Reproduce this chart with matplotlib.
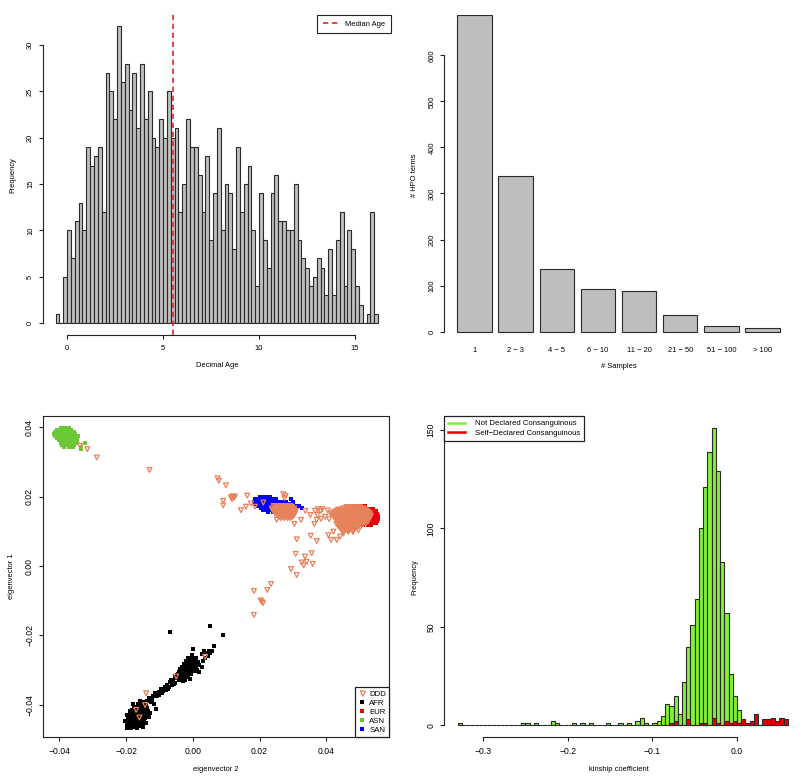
import matplotlib
matplotlib.use("Agg")
import matplotlib.pyplot as plt
from matplotlib.lines import Line2D

plt.rcParams['font.family'] = ['Liberation Sans', 'DejaVu Sans']

# ---- decimal age histogram (bins of 0.2 years starting at -0.6)
AGE_BIN_START = -0.6
AGE_BIN_WIDTH = 0.2
AGE_COUNTS = [1, 0, 5, 10, 7, 11, 13, 10, 19, 17, 18, 19, 12, 27, 25, 22, 32, 26, 28, 23,
              27, 21, 28, 22, 25, 20, 19, 22, 20, 25, 20, 21, 12, 15, 22, 19, 19, 16, 12, 18,
              9, 14, 21, 10, 15, 14, 8, 19, 12, 15, 17, 10, 4, 14, 9, 6, 14, 16, 11, 11,
              10, 10, 15, 9, 7, 6, 4, 5, 7, 6, 3, 8, 3, 9, 12, 4, 10, 8, 4, 2,
              0, 1, 12, 1]
MEDIAN_AGE = 5.52

# ---- HPO terms per number of samples
HPO_GROUPS = ["1", "2 \u2212 3", "4 \u2212 5", "6 \u2212 10", "11 \u2212 20",
              "21 \u2212 50", "51 \u2212 100", "> 100"]
HPO_COUNTS = [688, 339, 137, 93, 88, 37, 12, 7]

# ---- kinship coefficient histogram (bins of 0.005 starting at -0.33)
KIN_BIN_START = -0.33
KIN_BIN_WIDTH = 0.005
KIN_NOT_CONS = [1, 0, 0, 0, 0, 0, 0, 0, 0, 0, 0, 0, 0, 0, 0, 1, 1, 0, 1, 0,
                0, 0, 2, 1, 0, 0, 0, 1, 0, 1, 0, 1, 0, 0, 0, 1, 0, 0, 1, 0,
                1, 0, 2, 4, 1, 0, 1, 2, 5, 11, 10, 15, 6, 22, 40, 51, 64, 100, 121, 139,
                151, 129, 83, 57, 26, 15, 8, 0, 0, 0, 0, 0, 0, 0, 0, 0, 0, 0]
KIN_SELF_CONS = [0, 0, 0, 0, 0, 0, 0, 0, 0, 0, 0, 0, 0, 0, 0, 0, 0, 0, 0, 0,
                 0, 0, 0, 0, 0, 0, 0, 0, 0, 0, 0, 0, 0, 0, 0, 0, 0, 0, 0, 0,
                 0, 0, 0, 0, 0, 0, 0, 0, 0, 0, 1, 2, 0, 0, 3, 0, 0, 1, 1, 0,
                 4, 1, 0, 2, 1, 2, 1, 3, 1, 2, 6, 0, 3, 3, 4, 2, 4, 3]

# ---- PCA points, eigenvector 2 / eigenvector 1 in units of 1e-3
# dense groups are given as rows: (eigenvector 1, [eigenvector 2 values])
ASN_ROWS = [
    (39.8, [-39.6, -38.6, -37.8, -37.0]),
    (39.2, [-40.6, -39.8, -39.0, -38.2, -37.4, -36.6]),
    (38.6, [-41.2, -40.4, -39.6, -38.8, -38.0, -37.2, -36.4, -35.6]),
    (38.0, [-41.6, -40.8, -40.0, -39.2, -38.4, -37.6, -36.8, -36.0, -35.2]),
    (37.4, [-41.4, -40.6, -39.8, -39.0, -38.2, -37.4, -36.6, -35.8, -35.0, -34.4]),
    (36.8, [-40.8, -40.0, -39.2, -38.4, -37.6, -36.8, -36.0, -35.2, -34.6]),
    (36.2, [-40.2, -39.4, -38.6, -37.8, -37.0, -36.2, -35.4, -34.8]),
    (35.6, [-39.6, -38.8, -38.0, -37.2, -36.4, -35.6, -34.8, -32.3]),
    (35.0, [-39.2, -38.4, -37.4, -36.4, -35.6]),
    (34.4, [-38.6, -37.2, -36.0, -33.6]),
    (33.6, [-33.4]),
]
SAN_ROWS = [
    (19.8, [20.0, 21.0, 22.0, 23.0]),
    (19.2, [18.6, 19.5, 20.4, 21.3, 22.2, 23.1, 24.0, 25.0, 29.4]),
    (18.6, [18.4, 19.3, 20.2, 21.1, 22.0, 22.9, 23.8, 24.7, 25.6, 26.6, 28.0, 30.0]),
    (18.0, [18.9, 19.8, 20.7, 21.6, 22.5, 23.4, 24.3, 25.2, 26.2, 29.0]),
    (17.4, [19.5, 20.4, 21.3, 22.2, 23.1, 24.0, 24.9, 31.0, 31.8]),
    (16.8, [20.3, 21.2, 22.1, 23.0, 23.9, 32.6]),
    (16.2, [21.0, 22.0, 23.0, 24.6]),
    (15.6, [22.4, 24.0, 26.4]),
]
EUR_ROWS = [
    (17.2, [48.6, 49.6, 50.6, 51.6]),
    (16.5, [50.0, 51.0, 52.0, 53.0, 54.0]),
    (15.8, [52.0, 53.0, 54.0, 54.8]),
    (15.1, [52.4, 53.4, 54.4, 55.2]),
    (14.4, [52.8, 53.8, 54.8, 55.5]),
    (13.7, [52.6, 53.6, 54.6, 55.5]),
    (13.0, [52.4, 53.4, 54.4, 55.2]),
    (12.3, [52.0, 53.0, 54.0, 54.8]),
    (11.7, [51.0, 52.4, 53.4]),
]
AFR_PTS = [
    (-19.6, -45.8), (-18.8, -46.2), (-17.9, -46.3), (-17.0, -46.2), (-16.1, -46.0), (-15.3, -45.9),
    (-19.8, -45.0), (-19.0, -45.2), (-18.1, -45.3), (-17.2, -45.3), (-16.3, -45.1), (-15.4, -45.0),
    (-14.6, -44.8), (-19.5, -44.2), (-18.6, -44.3), (-17.7, -44.4), (-16.8, -44.3), (-15.9, -44.2),
    (-15.0, -44.0), (-14.2, -43.8), (-19.0, -43.4), (-18.1, -43.4), (-17.2, -43.5), (-16.3, -43.4),
    (-15.4, -43.2), (-14.5, -43.0), (-13.7, -42.8), (-18.6, -42.5), (-17.7, -42.6), (-16.8, -42.5),
    (-15.9, -42.4), (-15.0, -42.2), (-14.1, -42.0), (-13.3, -41.8), (-18.2, -41.6), (-17.3, -41.6),
    (-16.4, -41.6), (-15.5, -41.4), (-14.6, -41.2), (-13.7, -41.0), (-17.6, -40.7), (-16.8, -40.7),
    (-15.9, -40.6), (-15.0, -40.4), (-14.1, -40.1), (-16.5, -39.8), (-15.5, -39.6), (-14.6, -39.3),
    (-13.8, -38.8), (-13.0, -38.0), (-12.5, -39.2), (-11.0, -41.1), (-12.0, -37.5), (-11.2, -36.6),
    (-10.6, -37.6), (-10.0, -36.2), (-9.5, -35.4), (-8.8, -36.0), (-8.2, -35.0), (-7.6, -34.2),
    (-7.0, -35.0), (-6.8, -33.4), (-6.2, -34.2), (-5.8, -32.8), (-5.2, -33.6), (-4.8, -32.2),
    (-4.4, -31.2), (-3.6, -32.4), (-4.6, -31.4), (-3.8, -31.6), (-3.0, -31.8), (-2.2, -32.0),
    (-1.4, -31.6), (-0.6, -31.2), (-4.2, -30.6), (-3.4, -30.8), (-2.6, -30.8), (-1.8, -30.8),
    (-1.0, -30.6), (-0.2, -30.4), (0.6, -30.2), (-3.8, -29.8), (-3.0, -29.9), (-2.2, -29.9),
    (-1.4, -29.8), (-0.6, -29.6), (0.2, -29.4), (1.0, -29.0), (-3.2, -29.0), (-2.4, -29.0),
    (-1.6, -29.0), (-0.8, -28.8), (0.0, -28.6), (0.8, -28.2), (-2.6, -28.2), (-1.8, -28.2),
    (-1.0, -28.0), (-0.2, -27.8), (0.6, -27.4), (-2.0, -27.3), (-1.2, -27.2), (-0.4, -26.8),
    (-1.6, -26.4), (-0.8, -32.6), (-2.4, -33.0), (1.2, -30.0), (1.8, -28.6), (2.6, -29.0),
    (3.0, -27.4), (3.6, -26.6), (4.4, -26.0), (4.0, -25.2), (5.0, -25.0), (4.8, -24.4),
    (5.8, -24.4), (6.2, -23.2), (3.4, -24.6), (2.6, -25.4), (0.1, -24.0),
    (-12.2, -38.6), (-11.6, -39.8), (-10.2, -37.2), (-9.2, -36.6), (-8.0, -35.8), (-7.4, -35.6),
    (-6.4, -33.0), (-5.6, -34.0), (-5.4, -31.6), (-4.0, -33.0), (-3.0, -33.2), (1.8, -30.6),
    (1.6, -27.6), (0.8, -26.4), (-0.2, -25.8), (-19.8, -46.6), (-18.4, -46.8), (-16.8, -46.8),
    (-15.0, -46.4), (-14.0, -45.2), (-13.2, -43.6), (-12.8, -42.4), (-20.2, -44.6), (-19.6, -43.0),
    (-18.8, -41.8), (-17.8, -39.8), (-15.8, -38.8),
    (-6.8, -19.0), (5.1, -17.3), (9.0, -19.9),
]
DDD_ROWS = [
    # group next to the SAN samples
    (17.3, [24.2, 25.2, 26.2, 27.2, 28.2, 29.2]),
    (16.95, [24.7, 25.7, 26.7, 27.7, 28.7, 29.7]),
    (16.6, [23.6, 24.6, 25.6, 26.6, 27.6, 28.6, 29.6, 30.4]),
    (16.25, [24.1, 25.1, 26.1, 27.1, 28.1, 29.1, 30.1]),
    (15.9, [24.0, 25.0, 26.0, 27.0, 28.0, 29.0, 30.0, 30.9]),
    (15.55, [24.5, 25.5, 26.5, 27.5, 28.5, 29.5, 30.4]),
    (15.2, [24.6, 25.6, 26.6, 27.6, 28.6, 29.6, 30.6]),
    (14.85, [25.1, 26.1, 27.1, 28.1, 29.1, 30.1]),
    (14.5, [25.4, 26.4, 27.4, 28.4, 29.4, 30.2]),
    (14.15, [25.9, 26.9, 27.9, 28.9, 29.7]),
    (13.8, [26.4, 27.4, 28.4, 29.2]),
    # group over the EUR samples
    (17.0, [46.0, 47.0, 48.0, 49.0, 50.0]),
    (16.65, [45.1, 46.1, 47.1, 48.1, 49.1, 50.1, 51.1]),
    (16.3, [43.6, 44.6, 45.6, 46.6, 47.6, 48.6, 49.6, 50.6, 51.6]),
    (15.95, [43.1, 44.1, 45.1, 46.1, 47.1, 48.1, 49.1, 50.1, 51.1, 52.1]),
    (15.6, [42.4, 43.4, 44.4, 45.4, 46.4, 47.4, 48.4, 49.4, 50.4, 51.4, 52.4]),
    (15.25, [42.3, 43.3, 44.3, 45.3, 46.3, 47.3, 48.3, 49.3, 50.3, 51.3, 52.3, 53.0]),
    (14.9, [41.8, 42.8, 43.8, 44.8, 45.8, 46.8, 47.8, 48.8, 49.8, 50.8, 51.8, 52.8]),
    (14.55, [42.3, 43.3, 44.3, 45.3, 46.3, 47.3, 48.3, 49.3, 50.3, 51.3, 52.3, 53.3]),
    (14.2, [42.2, 43.2, 44.2, 45.2, 46.2, 47.2, 48.2, 49.2, 50.2, 51.2, 52.2, 53.2]),
    (13.85, [42.7, 43.7, 44.7, 45.7, 46.7, 47.7, 48.7, 49.7, 50.7, 51.7, 52.7]),
    (13.5, [42.8, 43.8, 44.8, 45.8, 46.8, 47.8, 48.8, 49.8, 50.8, 51.8, 52.8]),
    (13.15, [43.3, 44.3, 45.3, 46.3, 47.3, 48.3, 49.3, 50.3, 51.3, 52.3]),
    (12.8, [43.4, 44.4, 45.4, 46.4, 47.4, 48.4, 49.4, 50.4, 51.4, 52.4]),
    (12.45, [43.9, 44.9, 45.9, 46.9, 47.9, 48.9, 49.9, 50.9, 51.9]),
    (12.1, [43.0, 44.0, 45.0, 46.0, 47.0, 48.0, 49.0, 50.0, 51.0]),
    (11.75, [43.5, 44.5, 45.5, 46.5, 47.5, 48.5, 49.5, 50.5]),
    (11.4, [43.6, 44.6, 45.6, 46.6, 47.6, 48.6, 49.6]),
    (11.05, [44.0, 45.0, 46.0, 47.0, 48.0, 49.0]),
    (10.7, [44.4, 45.4, 46.4, 47.4, 48.4]),
    (10.35, [44.8, 45.8, 46.8, 47.8]),
    (10.0, [45.0, 46.5, 48.0]),
]
DDD_PTS = [
    (-33.8, 34.7), (-31.6, 33.7), (-28.8, 31.3), (-13.0, 27.7),
    (7.4, 25.3), (7.8, 24.6), (9.9, 23.3),
    (11.4, 19.8), (11.9, 20.1), (12.3, 19.7), (11.7, 19.3), (12.6, 20.0),
    (9.1, 18.8), (9.1, 17.5), (16.3, 20.3), (15.9, 17.1), (17.4, 18.0), (14.4, 16.1),
    (18.6, 17.1), (21.1, 18.3), (27.1, 20.7), (27.8, 20.2), (27.4, 19.6), (25.1, 13.3),
    (30.4, 12.1), (32.4, 13.3), (33.7, 15.9), (35.2, 14.7), (36.6, 15.9), (37.5, 16.4),
    (38.3, 15.9), (38.8, 16.4), (37.3, 14.7), (38.4, 13.6), (36.4, 12.1), (37.1, 13.3),
    (39.6, 14.2), (40.4, 16.0), (41.2, 15.2), (40.8, 13.5),
    (40.6, 8.9), (41.4, 7.5), (43.1, 7.5), (42.1, 9.9), (44.1, 8.5), (45.1, 9.4),
    (46.6, 9.9), (48.0, 9.8), (49.6, 10.3),
    (31.1, 7.7), (35.3, 8.7), (37.1, 7.2), (30.8, 3.5), (35.6, 3.7), (33.6, 2.7),
    (34.1, 1.2), (32.6, 1.0), (35.9, 0.6), (33.2, 0.2), (29.4, -0.9), (31.1, -2.6),
    (23.4, -5.2), (22.3, -6.9), (18.3, -7.2), (20.6, -10.3), (21.0, -10.7), (20.3, -9.9),
    (18.3, -14.1),
    (3.7, -26.2), (-5.0, -31.9), (-14.0, -36.7), (-14.3, -40.1), (-17.0, -41.5), (-16.0, -43.7),
]

GREY = '#BEBEBE'
EDGE = '#2a2a2a'
DDD_COL = '#E8825A'
AFR_COL = '#000000'
EUR_COL = '#E8000B'
ASN_COL = '#6CC734'
SAN_COL = '#0000F2'
NOT_COL = '#84F03A'
SELF_COL = '#E60000'

TICK_FS = 5.4
LAB_FS = 5.4


def rows_to_xy(rows):
    xs, ys = [], []
    for y, row in rows:
        for x in row:
            xs.append(x * 1e-3)
            ys.append(y * 1e-3)
    return xs, ys


def pts_to_xy(pts):
    return [p[0] * 1e-3 for p in pts], [p[1] * 1e-3 for p in pts]


def r_axes(ax, xticks, yticks, xlabels=None, ylabels=None, box=False, size=TICK_FS):
    for side in ('top', 'right'):
        ax.spines[side].set_visible(box)
    if not box:
        ax.spines['left'].set_bounds(yticks[0], yticks[-1])
        if xticks is not None:
            ax.spines['bottom'].set_bounds(xticks[0], xticks[-1])
    for sp in ax.spines.values():
        sp.set_linewidth(0.8)
        sp.set_color('#222222')
    if xticks is not None:
        ax.set_xticks(xticks)
        if xlabels is not None:
            ax.set_xticklabels(xlabels)
    ax.set_yticks(yticks)
    if ylabels is not None:
        ax.set_yticklabels(ylabels)
    ax.tick_params(length=3.2, width=0.8, color='#222222', labelsize=size, pad=4.0)
    ax.tick_params(axis='y', pad=3.0)
    for lab in ax.get_yticklabels():
        lab.set_rotation(90)
        lab.set_va('center')
        lab.set_ha('right')


fig = plt.figure(figsize=(8.0, 7.78), dpi=100)

# ---------------- top left: decimal age
ax1 = fig.add_axes([0.0534, 0.5694, 0.4354, 0.4118])
age_left = [AGE_BIN_START + i * AGE_BIN_WIDTH for i in range(len(AGE_COUNTS))]
ax1.bar(age_left, AGE_COUNTS, width=AGE_BIN_WIDTH, align='edge', color=GREY,
        edgecolor=EDGE, linewidth=0.8)
ax1.axvline(MEDIAN_AGE, color='#E3262A', linestyle=(0, (3.2, 2.2)), linewidth=1.2)
ax1.set_xlim(-1.272, 16.872)
ax1.set_ylim(-1.28, 33.28)
r_axes(ax1, [0, 5, 10, 15], [0, 5, 10, 15, 20, 25, 30])
ax1.set_xlabel('Decimal Age', fontsize=LAB_FS, labelpad=7)
ax1.set_ylabel('Frequency', fontsize=LAB_FS, labelpad=8)
leg = ax1.legend([Line2D([], [], color='#E3262A', linestyle=(0, (3.2, 2.2)), linewidth=1.2)],
                 ['Median Age'], loc='upper right', borderaxespad=0, fontsize=5.4,
                 fancybox=False, edgecolor='#222222', framealpha=1, handlelength=2.0,
                 borderpad=0.75, handletextpad=1.0)
leg.get_frame().set_linewidth(0.8)

# ---------------- top right: HPO terms
ax2 = fig.add_axes([0.5554, 0.5694, 0.4354, 0.4118])
centers = [0.7 + 1.2 * i for i in range(len(HPO_COUNTS))]
ax2.bar(centers, HPO_COUNTS, width=1.0, color=GREY, edgecolor=EDGE, linewidth=0.8)
ax2.set_xlim(-0.176, 9.976)
ax2.set_ylim(-7.2, 688.3)
r_axes(ax2, None, [0, 100, 200, 300, 400, 500, 600])
ax2.spines['bottom'].set_visible(False)
ax2.set_xticks(centers)
ax2.set_xticklabels(HPO_GROUPS)
ax2.tick_params(axis='x', length=0, pad=8.4)
ax2.set_xlabel('# Samples', fontsize=LAB_FS, labelpad=7)
ax2.set_ylabel('# HPO terms', fontsize=LAB_FS, labelpad=8)

# ---------------- bottom left: PCA
ax3 = fig.add_axes([0.0534, 0.0523, 0.4333, 0.4130])
x, y = pts_to_xy(AFR_PTS)
ax3.scatter(x, y, marker='s', s=11, color=AFR_COL, linewidths=0)
x, y = rows_to_xy(EUR_ROWS)
ax3.scatter(x, y, marker='s', s=10, color=EUR_COL, linewidths=0)
x, y = rows_to_xy(ASN_ROWS)
ax3.scatter(x, y, marker='s', s=10, color=ASN_COL, linewidths=0)
x, y = rows_to_xy(SAN_ROWS)
ax3.scatter(x, y, marker='s', s=10, color=SAN_COL, linewidths=0)
x, y = rows_to_xy(DDD_ROWS)
ax3.scatter(x, y, marker='v', s=12, facecolors='none', edgecolors=DDD_COL, linewidths=0.9)
x, y = pts_to_xy(DDD_PTS)
ax3.scatter(x, y, marker='v', s=12, facecolors='none', edgecolors=DDD_COL, linewidths=0.9)
ax3.set_xlim(-0.04497, 0.05886)
ax3.set_ylim(-0.0494, 0.04326)
pca_ticks = [-0.04, -0.02, 0.0, 0.02, 0.04]
pca_labels = ['\u22120.04', '\u22120.02', '0.00', '0.02', '0.04']
r_axes(ax3, pca_ticks, pca_ticks, pca_labels, pca_labels, box=True, size=6.2)
ax3.set_xlabel('eigenvector 2', fontsize=LAB_FS, labelpad=7)
ax3.set_ylabel('eigenvector 1', fontsize=LAB_FS, labelpad=7)
handles = [Line2D([], [], marker='v', linestyle='none', markersize=3.6, markerfacecolor='none',
                  markeredgecolor=DDD_COL, markeredgewidth=0.9)]
for c in (AFR_COL, EUR_COL, ASN_COL, SAN_COL):
    handles.append(Line2D([], [], marker='s', linestyle='none', markersize=2.8,
                          markerfacecolor=c, markeredgewidth=0))
leg = ax3.legend(handles, ['DDD', 'AFR', 'EUR', 'ASN', 'SAN'], loc='lower right',
                 borderaxespad=0, fontsize=5.6, fancybox=False, edgecolor='#222222',
                 framealpha=1, handlelength=0.8, handletextpad=0.6, labelspacing=0.22,
                 borderpad=0.4)
leg.get_frame().set_linewidth(0.9)

# ---------------- bottom right: kinship
ax4 = fig.add_axes([0.5554, 0.0523, 0.4354, 0.4130])
kin_left = [KIN_BIN_START + i * KIN_BIN_WIDTH for i in range(len(KIN_NOT_CONS))]
ax4.bar(kin_left, KIN_NOT_CONS, width=KIN_BIN_WIDTH, align='edge', color=NOT_COL,
        edgecolor=EDGE, linewidth=0.8)
ax4.bar(kin_left[50:], KIN_SELF_CONS[50:], width=KIN_BIN_WIDTH, align='edge', color=SELF_COL,
        edgecolor=EDGE, linewidth=0.8)
ax4.set_xlim(-0.3457, 0.0657)
ax4.set_ylim(-6.04, 157.04)
r_axes(ax4, [-0.3, -0.2, -0.1, 0.0], [0, 50, 100, 150],
       ['\u22120.3', '\u22120.2', '\u22120.1', '0.0'], size=6.2)
ax4.set_xlabel('kinship coefficient', fontsize=LAB_FS, labelpad=7)
ax4.set_ylabel('Frequency', fontsize=LAB_FS, labelpad=6)
leg = ax4.legend([Line2D([], [], color=NOT_COL, linewidth=1.8),
                  Line2D([], [], color=SELF_COL, linewidth=1.8)],
                 ['Not Declared Consanguinous', 'Self\u2212Declared Consanguinous'],
                 loc='upper left', borderaxespad=0, fontsize=5.6, fancybox=False,
                 edgecolor='#222222', framealpha=1, handlelength=2.2, handletextpad=1.2,
                 labelspacing=0.3, borderpad=0.5)
leg.get_frame().set_linewidth(0.9)

fig.savefig('out.png', dpi=100)
